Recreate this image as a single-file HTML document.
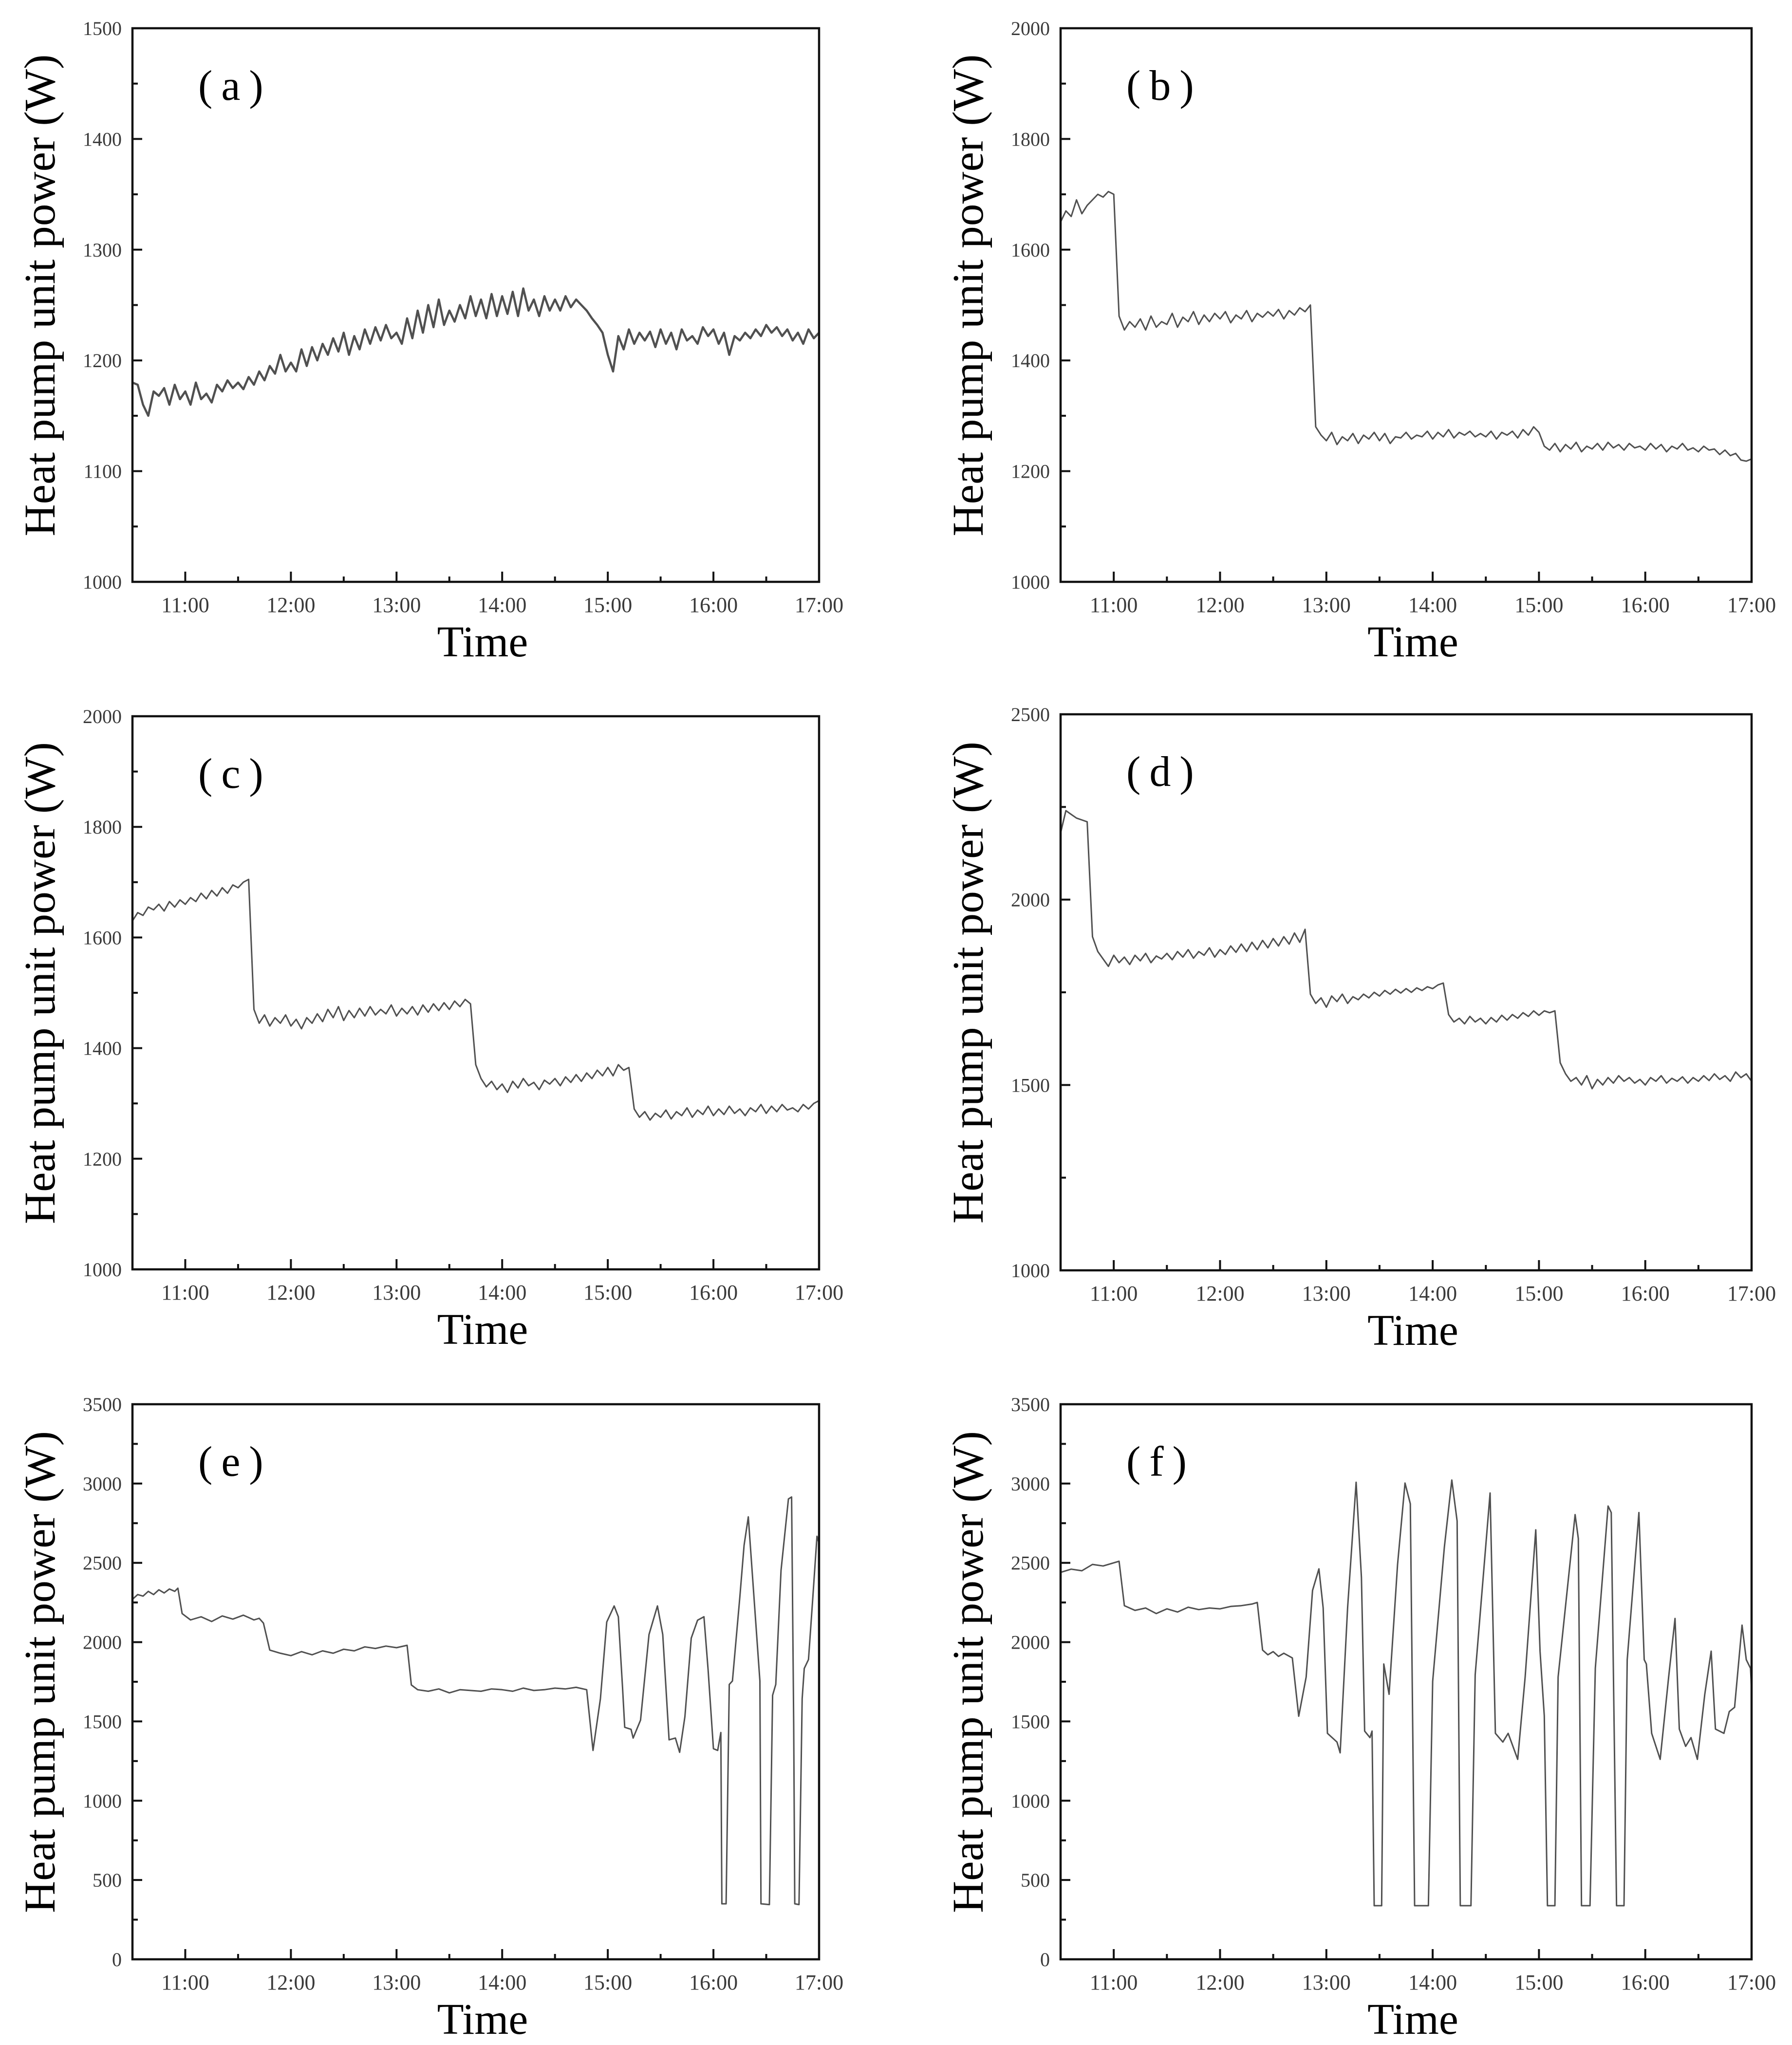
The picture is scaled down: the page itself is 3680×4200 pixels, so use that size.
<!DOCTYPE html>
<html><head><meta charset="utf-8"><style>
html,body{margin:0;padding:0;background:#fff;}
svg{display:block;}
text{font-family:"Liberation Serif",serif;}
</style></head>
<body>
<svg id="fig" width="3680" height="4200" viewBox="0 0 3680 4200" xmlns="http://www.w3.org/2000/svg">
<rect x="0" y="0" width="3680" height="4200" fill="#fff"/>
</svg>
<script>
// x-axis categories
const xTickLabels = ["11:00","12:00","13:00","14:00","15:00","16:00","17:00"];
const xTickHours = [11,12,13,14,15,16,17];
// uniform sampling for a-d series: start hour and step (hours)
const sampleStart = 10.5;
const sampleStep = 0.05;

const seriesA = [1180,1178,1160,1150,1172,1168,1175,1160,1178,1165,
1172,1160,1180,1165,1170,1162,1178,1172,1182,1175,
1180,1174,1185,1178,1190,1182,1195,1188,1205,1190,
1198,1190,1210,1195,1212,1200,1215,1205,1220,1208,
1225,1205,1222,1210,1228,1215,1230,1218,1232,1220,
1225,1215,1238,1220,1245,1225,1250,1230,1255,1232,
1245,1235,1250,1238,1258,1240,1255,1238,1260,1240,
1258,1242,1262,1240,1265,1245,1255,1240,1258,1245,
1255,1245,1258,1248,1255,1250,1245,1238,1232,1225,
1205,1190,1222,1210,1228,1215,1225,1218,1226,1212,
1228,1215,1225,1210,1228,1218,1222,1215,1230,1222,
1228,1215,1225,1205,1222,1218,1225,1220,1228,1222,
1232,1225,1230,1222,1228,1218,1225,1215,1228,1220,1225];

const seriesB = [1650,1670,1660,1690,1665,1680,1690,1700,1695,1705,
1700,1480,1455,1470,1460,1475,1455,1480,1460,1470,
1465,1485,1460,1478,1470,1488,1465,1482,1470,1485,
1475,1488,1468,1482,1475,1490,1470,1485,1478,1488,
1480,1492,1475,1490,1482,1495,1488,1500,1280,1265,
1255,1270,1248,1262,1255,1268,1250,1265,1258,1270,
1255,1268,1250,1262,1260,1270,1258,1265,1262,1272,
1258,1270,1262,1275,1260,1270,1265,1272,1262,1268,
1262,1272,1258,1270,1265,1272,1260,1275,1265,1280,
1270,1245,1238,1250,1235,1248,1240,1252,1235,1245,
1240,1250,1238,1252,1242,1248,1238,1250,1242,1245,
1238,1250,1240,1248,1235,1245,1240,1250,1238,1242,
1235,1245,1238,1240,1230,1238,1228,1232,1220,1218,1222];

const seriesC = [1630,1645,1640,1655,1650,1660,1648,1665,1655,1668,
1660,1672,1665,1680,1670,1685,1675,1690,1680,1695,
1690,1700,1705,1470,1445,1460,1440,1455,1445,1460,
1440,1452,1435,1455,1445,1462,1448,1470,1455,1475,
1450,1468,1455,1472,1458,1475,1460,1470,1462,1478,
1458,1472,1462,1475,1460,1478,1465,1480,1468,1482,
1470,1485,1475,1488,1480,1370,1345,1330,1340,1325,
1335,1320,1340,1328,1345,1332,1338,1325,1342,1335,
1345,1332,1348,1338,1352,1340,1355,1345,1360,1350,
1365,1350,1370,1360,1365,1290,1275,1285,1270,1282,
1275,1288,1272,1285,1278,1292,1275,1288,1280,1295,
1278,1290,1280,1295,1282,1290,1278,1292,1285,1298,
1282,1295,1285,1298,1288,1292,1285,1298,1290,1300,1305];

const seriesD = [2180,2240,2230,2220,2215,2210,1900,1860,1840,1820,
1850,1830,1845,1825,1850,1835,1855,1830,1848,1840,
1855,1838,1860,1845,1865,1842,1860,1850,1870,1845,
1865,1852,1875,1858,1880,1860,1885,1865,1890,1870,
1895,1875,1900,1880,1910,1885,1920,1745,1720,1735,
1710,1740,1725,1745,1720,1738,1730,1745,1735,1750,
1740,1755,1745,1758,1748,1760,1750,1762,1755,1765,
1760,1770,1775,1690,1670,1680,1665,1685,1670,1680,
1665,1682,1670,1688,1675,1690,1680,1695,1685,1700,
1688,1700,1695,1700,1560,1530,1510,1520,1500,1525,
1490,1515,1500,1520,1505,1525,1510,1520,1505,1515,
1500,1520,1510,1525,1505,1518,1510,1522,1505,1520,
1510,1525,1512,1530,1515,1525,1510,1535,1520,1530,1510];

const timesE = [10.5,10.55,10.6,10.65,10.7,10.75,10.8,10.85,10.9,10.93,10.97,11.05,11.15,11.25,11.35,11.45,11.55,11.65,11.7,11.74,11.8,11.9,12.0,12.1,12.2,12.3,12.4,12.5,12.6,12.7,12.8,12.9,13.0,13.1,13.14,13.2,13.3,13.4,13.5,13.6,13.7,13.8,13.9,14.0,14.1,14.2,14.3,14.4,14.5,14.6,14.7,14.8,
14.86,14.93,14.99,15.06,15.10,15.14,15.16,15.22,15.24,15.31,15.39,15.43,15.47,15.52,15.58,15.64,15.68,15.73,15.79,15.85,15.91,15.95,16.0,16.04,16.07,16.08,16.12,16.15,16.18,16.25,16.29,16.33,16.44,16.45,16.53,16.56,16.59,16.64,16.71,16.74,16.76,16.77,16.81,16.84,16.86,16.9,16.94,16.98,16.995,17.0];
const seriesE = [2270,2300,2290,2320,2300,2330,2310,2335,2320,2340,2180,2140,2160,2130,2165,2145,2170,2140,2150,2120,1950,1930,1915,1940,1920,1945,1930,1955,1945,1970,1960,1975,1965,1980,1730,1700,1690,1705,1680,1700,1695,1690,1705,1700,1690,1710,1695,1700,1710,1705,1715,1700,
1317,1643,2127,2228,2160,1710,1463,1450,1395,1508,2048,2138,2228,2048,1384,1395,1305,1530,2025,2138,2160,1823,1328,1317,1430,350,350,1733,1755,2284,2610,2790,1755,350,345,1665,1733,2452,2903,2915,1485,350,345,1643,1834,1890,2273,2667,2633,1350];

const timesF = [10.5,10.6,10.7,10.8,10.9,11.0,11.05,11.1,11.2,11.3,11.4,11.5,11.6,11.7,11.8,11.9,12.0,12.1,12.2,12.3,12.35,12.4,12.45,12.5,12.55,12.6,12.68,
12.74,12.81,12.87,12.93,12.97,13.01,13.1,13.13,13.2,13.28,13.33,13.36,13.41,13.43,13.45,13.52,13.54,13.59,13.67,13.74,13.79,13.83,13.96,14.0,14.11,14.18,14.23,14.26,14.36,14.4,14.54,14.59,14.66,14.71,14.8,14.87,14.97,15.01,15.05,15.08,15.15,15.18,15.34,15.37,15.4,15.48,15.53,15.65,15.68,15.73,15.8,15.83,15.94,15.99,16.01,16.06,16.14,16.22,16.28,16.32,16.38,16.43,16.49,16.56,16.62,16.66,16.74,16.79,16.84,16.91,16.95,16.99,17.0];
const seriesF = [2440,2460,2450,2490,2480,2500,2510,2230,2200,2215,2180,2210,2190,2220,2205,2215,2210,2225,2230,2240,2250,1950,1920,1940,1910,1930,1900,
1533,1780,2326,2462,2216,1425,1370,1302,2216,3008,2407,1439,1398,1439,338,338,1862,1671,2490,3003,2872,338,338,1753,2599,3022,2763,338,338,1794,2940,1425,1370,1425,1261,1780,2708,1943,1535,338,338,1780,2804,2653,338,338,1835,2858,2817,338,338,1889,2817,1889,1862,1425,1261,1780,2149,1452,1343,1398,1261,1671,1943,1452,1425,1562,1589,2107,1889,1835,1698];

// y-axis tick values
const yTicksA = [1000,1100,1200,1300,1400,1500];
const yTicksB = [1000,1200,1400,1600,1800,2000];
const yTicksC = [1000,1200,1400,1600,1800,2000];
const yTicksD = [1000,1500,2000,2500];
const yTicksE = [0,500,1000,1500,2000,2500,3000,3500];
const yTicksF = [0,500,1000,1500,2000,2500,3000,3500];

const NS = "http://www.w3.org/2000/svg";
const svg = document.getElementById('fig');
function mk(tag, attrs, parent){
  const e = document.createElementNS(NS, tag);
  for (const k in attrs) e.setAttribute(k, attrs[k]);
  (parent||svg).appendChild(e);
  return e;
}
function uniformTimes(n){ const t=[]; for(let i=0;i<n;i++) t.push(sampleStart+i*sampleStep); return t; }

const panels = [
  {id:'a', L:272, R:1682, T:58, B:1195, ticks:yTicksA, minor:50, times:uniformTimes(seriesA.length), vals:seriesA, lw:4.5},
  {id:'b', L:2178, R:3597, T:58, B:1195, ticks:yTicksB, minor:100, times:uniformTimes(seriesB.length), vals:seriesB, lw:3},
  {id:'c', L:272, R:1682, T:1471, B:2607, ticks:yTicksC, minor:100, times:uniformTimes(seriesC.length), vals:seriesC, lw:3},
  {id:'d', L:2178, R:3597, T:1467, B:2609, ticks:yTicksD, minor:250, times:uniformTimes(seriesD.length), vals:seriesD, lw:3},
  {id:'e', L:272, R:1682, T:2884, B:4024, ticks:yTicksE, minor:250, times:timesE, vals:seriesE, lw:3},
  {id:'f', L:2178, R:3597, T:2884, B:4024, ticks:yTicksF, minor:250, times:timesF, vals:seriesF, lw:3}
];

panels.forEach(p=>{
  const g = mk('g',{});
  
  
  const y0 = p.ticks[0], y1 = p.ticks[p.ticks.length-1];
  const X = t => p.L + (t-10.5)/6.5*(p.R-p.L);
  const Y = v => p.B - (v-y0)/(y1-y0)*(p.B-p.T);

  let d='';
  p.times.forEach((t,i)=>{ d += (i?'L':'M') + X(t).toFixed(1) + ' ' + Y(p.vals[i]).toFixed(1) + ' '; });
  const line = mk('path',{d:d, fill:'none', stroke:'#505050', 'stroke-width':p.lw, 'stroke-linejoin':'round'}, g);
  
  

  const fr = mk('rect',{x:p.L, y:p.T, width:p.R-p.L, height:p.B-p.T, fill:'none', stroke:'#111', 'stroke-width':4.5}, g);
  
  

  for (let v=y0; v<=y1+0.01; v+=p.minor){
    const major = p.ticks.indexOf(v)>=0;
    const tk = mk('line',{x1:p.L, x2:p.L+(major?20:11), y1:Y(v), y2:Y(v), stroke:'#111', 'stroke-width':4}, g);
    
    
  }
  p.ticks.forEach(v=>{
    const tx = mk('text',{x:p.L-22, y:Y(v)+14, 'text-anchor':'end', 'font-size':40, fill:'#3a3a3a'}, g);
    tx.textContent = String(v);
    
    
  });
  for (let h=11; h<=17; h+=0.5){
    const major = Number.isInteger(h);
    const tk = mk('line',{x1:X(h), x2:X(h), y1:p.B, y2:p.B-(major?21:11), stroke:'#111', 'stroke-width':4}, g);
    
    
  }
  xTickHours.forEach((h,i)=>{
    const tx = mk('text',{x:X(h), y:p.B+62, 'text-anchor':'middle', 'font-size':44, fill:'#3a3a3a'}, g);
    tx.textContent = xTickLabels[i];
    
    
  });
  const xt = mk('text',{x:(p.L+p.R)/2+14, y:p.B+153, 'text-anchor':'middle', 'font-size':90, fill:'#000'}, g);
  xt.textContent = 'Time';
  
  
  const cy = (p.T+p.B)/2 - 20;
  const cx = p.L - 160;
  const yt = mk('text',{x:cx, y:cy, 'text-anchor':'middle', 'font-size':90, fill:'#000', transform:'rotate(-90 '+cx+' '+cy+')', textLength:990, lengthAdjust:'spacingAndGlyphs'}, g);
  yt.textContent = 'Heat pump unit power (W)';
  
  
  const pl = mk('text',{x:p.L+135, y:p.T+147, 'font-size':88, fill:'#000'}, g);
  const s1 = mk('tspan',{}, pl); s1.textContent='(';
  const s2 = mk('tspan',{dx:18}, pl); s2.textContent=p.id;
  const s3 = mk('tspan',{dx:18}, pl); s3.textContent=')';
  
  
});
</script>
</body></html>
